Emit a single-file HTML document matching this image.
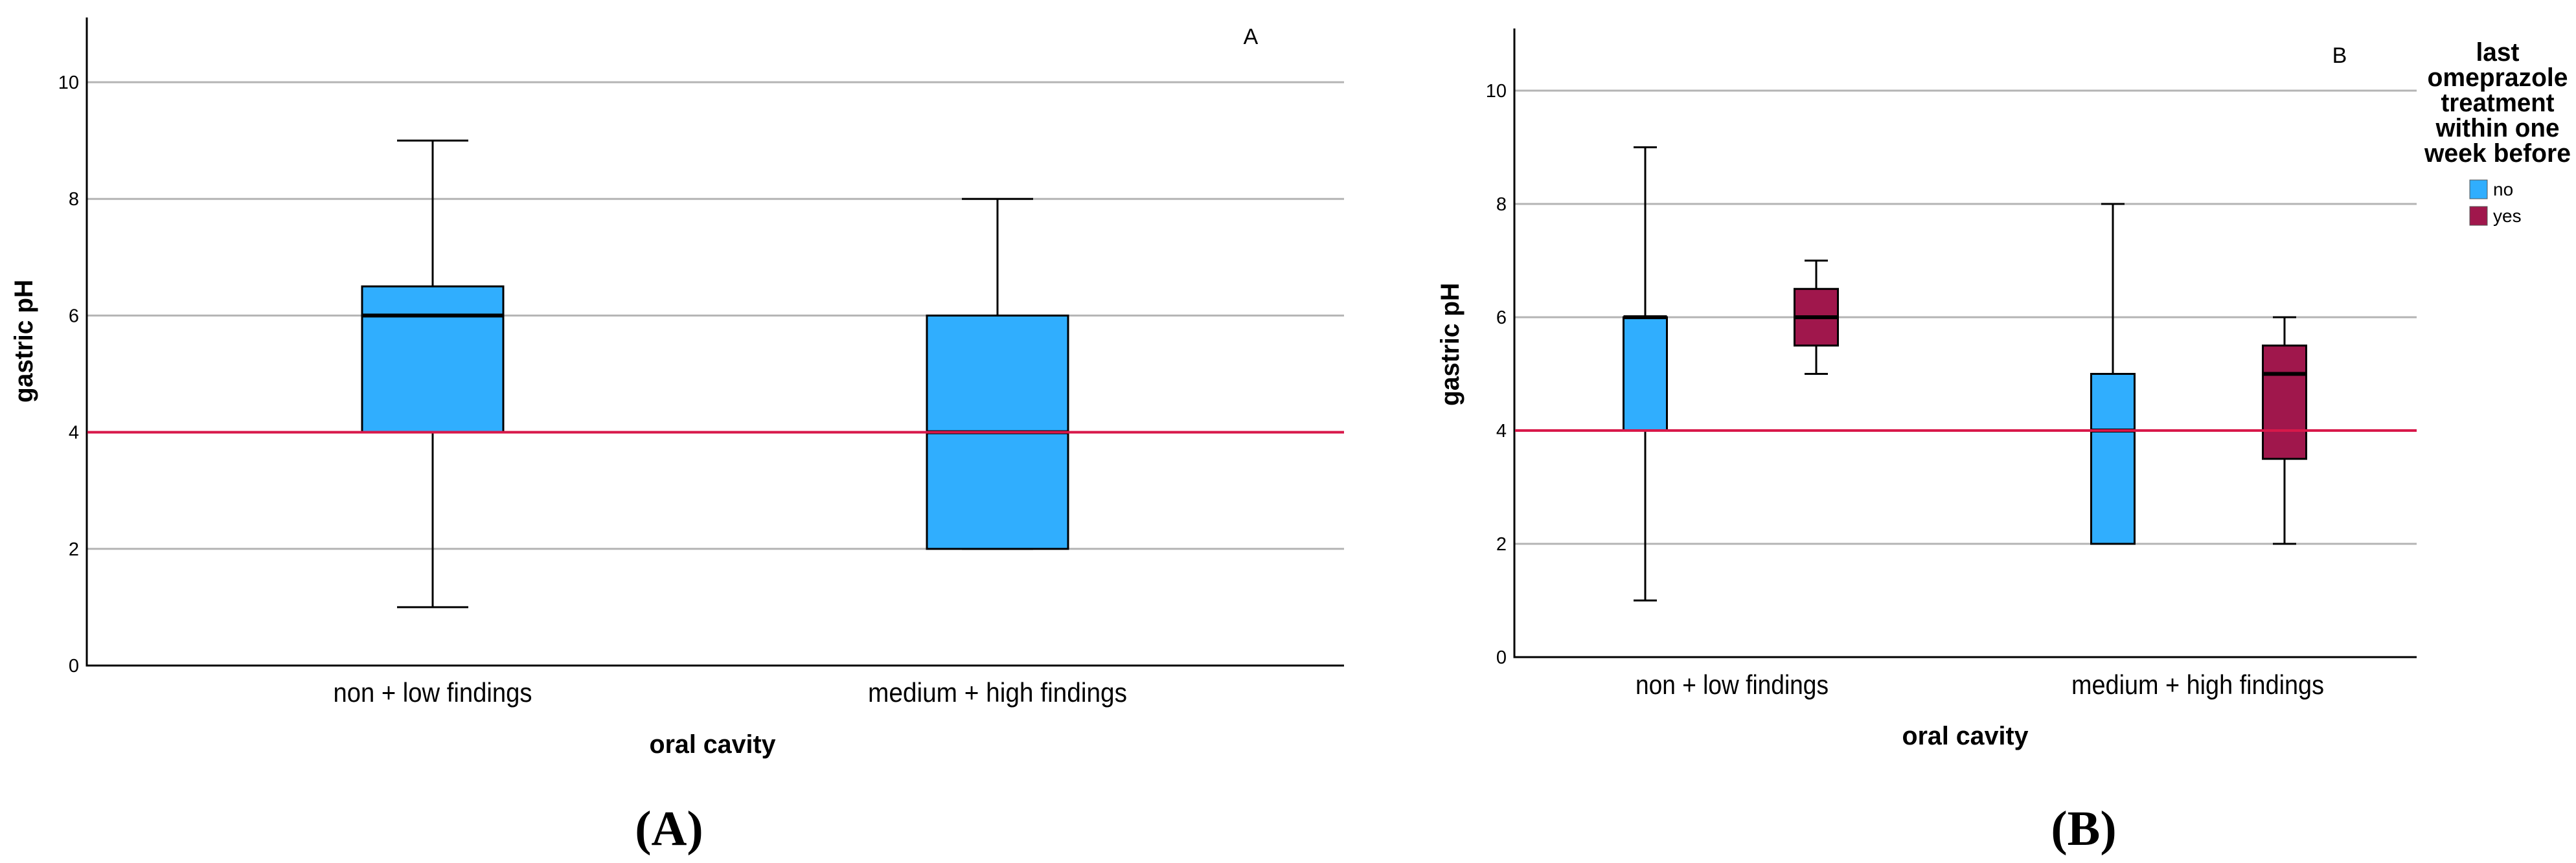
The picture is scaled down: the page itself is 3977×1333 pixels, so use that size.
<!DOCTYPE html>
<html><head><meta charset="utf-8"><style>
html,body{margin:0;padding:0;background:#fff;}
svg{display:block;}
text{font-family:"Liberation Sans",sans-serif;fill:#000;}
</style></head><body>
<svg id="fig" width="3977" height="1333" viewBox="0 0 3977 1333" xmlns="http://www.w3.org/2000/svg">
<g id="chartA"></g>
<g id="chartB"></g>
</svg>
<script>
const categories = ["non + low findings", "medium + high findings"];
const yTicks = [0, 2, 4, 6, 8, 10];
const refValue = 4;
// chart A: [min, q1, median, q3, max] per category
const aMin = [1, 2];
const aQ1 = [4, 2];
const aMed = [6, 4];
const aQ3 = [6.5, 6];
const aMax = [9, 8];
// chart B: series "no" and "yes"
const seriesNames = ["no", "yes"];
const bNoMin = [1, 2];
const bNoQ1 = [4, 2];
const bNoMed = [6, 4];
const bNoQ3 = [6, 5];
const bNoMax = [9, 8];
const bYesMin = [5, 2];
const bYesQ1 = [5.5, 3.5];
const bYesMed = [6, 5];
const bYesQ3 = [6.5, 5.5];
const bYesMax = [7, 6];

const NS = "http://www.w3.org/2000/svg";
function el(parent, tag, attrs, txt) {
  const e = document.createElementNS(NS, tag);
  for (const k in attrs) e.setAttribute(k, attrs[k]);
  if (txt !== undefined) e.textContent = txt;
  parent.appendChild(e);
  return e;
}
const colors = {no: "#30aefe", yes: "#a0174c"};

function drawAxes(g, cfg) {
  const y = v => cfg.y0 - v * cfg.unit;
  yTicks.forEach(t => {
    if (t > 0) {
      const gl = el(g, "line", {x1: cfg.x0, x2: cfg.x1, y1: y(t), y2: y(t), stroke: "#b4b4b4", "stroke-width": 3});
      
      
    }
    const tl = el(g, "text", {x: cfg.x0 - 12, y: y(t) + 10, "font-size": 29, "text-anchor": "end"}, String(t));
    
    
  });
  const ax = el(g, "line", {x1: cfg.x0, x2: cfg.x0, y1: cfg.top, y2: cfg.y0 + 1.5, stroke: "#000", "stroke-width": 3});
  
  
  const bx = el(g, "line", {x1: cfg.x0 - 1.5, x2: cfg.x1, y1: cfg.y0, y2: cfg.y0, stroke: "#000", "stroke-width": 3});
  
  
  categories.forEach((c, i) => {
    const t = el(g, "text", {x: cfg.catX[i], y: cfg.catY, "font-size": 42, "text-anchor": "middle", textLength: cfg.catLen[i], lengthAdjust: "spacingAndGlyphs"}, c);
    
    
  });
  const xt = el(g, "text", {x: cfg.xTitleX, y: cfg.xTitleY, "font-size": 40, "font-weight": "bold", "text-anchor": "middle", textLength: 195, lengthAdjust: "spacingAndGlyphs"}, "oral cavity");
  
  
  const yt = el(g, "text", {x: 0, y: 0, "font-size": 40, "font-weight": "bold", "text-anchor": "middle", textLength: 190, lengthAdjust: "spacingAndGlyphs", transform: "translate(" + cfg.yTitleX + "," + cfg.yTitleY + ") rotate(-90)"}, "gastric pH");
  
  
  return y;
}

function drawBox(g, y, cx, w, capW, mn, q1, md, q3, mx, fill, name) {
  const grp = el(g, "g", {});
  
  
  const ws = {stroke: "#000", "stroke-width": 3};
  el(grp, "line", Object.assign({x1: cx, x2: cx, y1: y(mx), y2: y(q3)}, ws));
  el(grp, "line", Object.assign({x1: cx, x2: cx, y1: y(q1), y2: y(mn)}, ws));
  el(grp, "line", Object.assign({x1: cx - capW / 2, x2: cx + capW / 2, y1: y(mx), y2: y(mx)}, ws));
  el(grp, "line", Object.assign({x1: cx - capW / 2, x2: cx + capW / 2, y1: y(mn), y2: y(mn)}, ws));
  el(grp, "rect", {x: cx - w / 2, y: y(q3), width: w, height: Math.max(0, y(q1) - y(q3)), fill: fill, stroke: "#000", "stroke-width": 3});
  el(grp, "line", {x1: cx - w / 2, x2: cx + w / 2, y1: y(md), y2: y(md), stroke: "#000", "stroke-width": 6});
}

function refLine(g, y, x0, x1) {
  const r = el(g, "line", {x1: x0, x2: x1, y1: y(refValue), y2: y(refValue), stroke: "#d8184a", "stroke-width": 4});
  
  
}

// ---- Chart A ----
const gA = document.getElementById("chartA");
const cfgA = {x0: 134, x1: 2075, top: 27, y0: 1028, unit: 90.1, catX: [668, 1540], catY: 1084, catLen: [307, 400], xTitleX: 1100, xTitleY: 1163, yTitleX: 50, yTitleY: 527};
const yA = drawAxes(gA, cfgA);
const centersA = [668, 1540];
categories.forEach((c, i) => {
  drawBox(gA, yA, centersA[i], 218, 110, aMin[i], aQ1[i], aMed[i], aQ3[i], aMax[i], colors.no, 'box-a-' + i);
});
refLine(gA, yA, 135, 2075);
const la = el(gA, "text", {x: 1931, y: 68, "font-size": 34, "text-anchor": "middle"}, "A");


const capA = el(gA, "text", {x: 1033, y: 1305, "font-size": 76, "font-weight": "bold", "text-anchor": "middle", style: "font-family:'Liberation Serif',serif"}, "(A)");



// ---- Chart B ----
const gB = document.getElementById("chartB");
const cfgB = {x0: 2338, x1: 3731, top: 44, y0: 1015, unit: 87.5, catX: [2674, 3393], catY: 1072, catLen: [298, 390], xTitleX: 3034, xTitleY: 1150, yTitleX: 2252, yTitleY: 532};
const yB = drawAxes(gB, cfgB);
const noX = [2540, 3262];
const yesX = [2804, 3527];
categories.forEach((c, i) => {
  drawBox(gB, yB, noX[i], 67, 36, bNoMin[i], bNoQ1[i], bNoMed[i], bNoQ3[i], bNoMax[i], colors.no, 'box-b-no-' + i);
  drawBox(gB, yB, yesX[i], 67, 36, bYesMin[i], bYesQ1[i], bYesMed[i], bYesQ3[i], bYesMax[i], colors.yes, 'box-b-yes-' + i);
});
refLine(gB, yB, 2339, 3731);
const lb = el(gB, "text", {x: 3612, y: 97, "font-size": 34, "text-anchor": "middle"}, "B");


const capB = el(gB, "text", {x: 3217, y: 1305, "font-size": 76, "font-weight": "bold", "text-anchor": "middle", style: "font-family:'Liberation Serif',serif"}, "(B)");



// Legend
const lg = el(gB, "g", {});


const titleLines = ["last", "omeprazole", "treatment", "within one", "week before"];
const titleLens = [67, 217, 175, 191, 226];
titleLines.forEach((t, i) => {
  const tt = el(lg, "text", {x: 3856, y: 94 + i * 39, "font-size": 40, "font-weight": "bold", "text-anchor": "middle", textLength: titleLens[i], lengthAdjust: "spacingAndGlyphs"}, t);
  
  
});
seriesNames.forEach((s, i) => {
  const sw = el(lg, "rect", {x: 3813, y: 278 + i * 41, width: 27, height: 29, fill: colors[s], stroke: "#555", "stroke-width": 1});
  
  
  const lt = el(lg, "text", {x: 3849, y: 302 + i * 41, "font-size": 28}, s);
  
  
});
</script>
</body></html>
